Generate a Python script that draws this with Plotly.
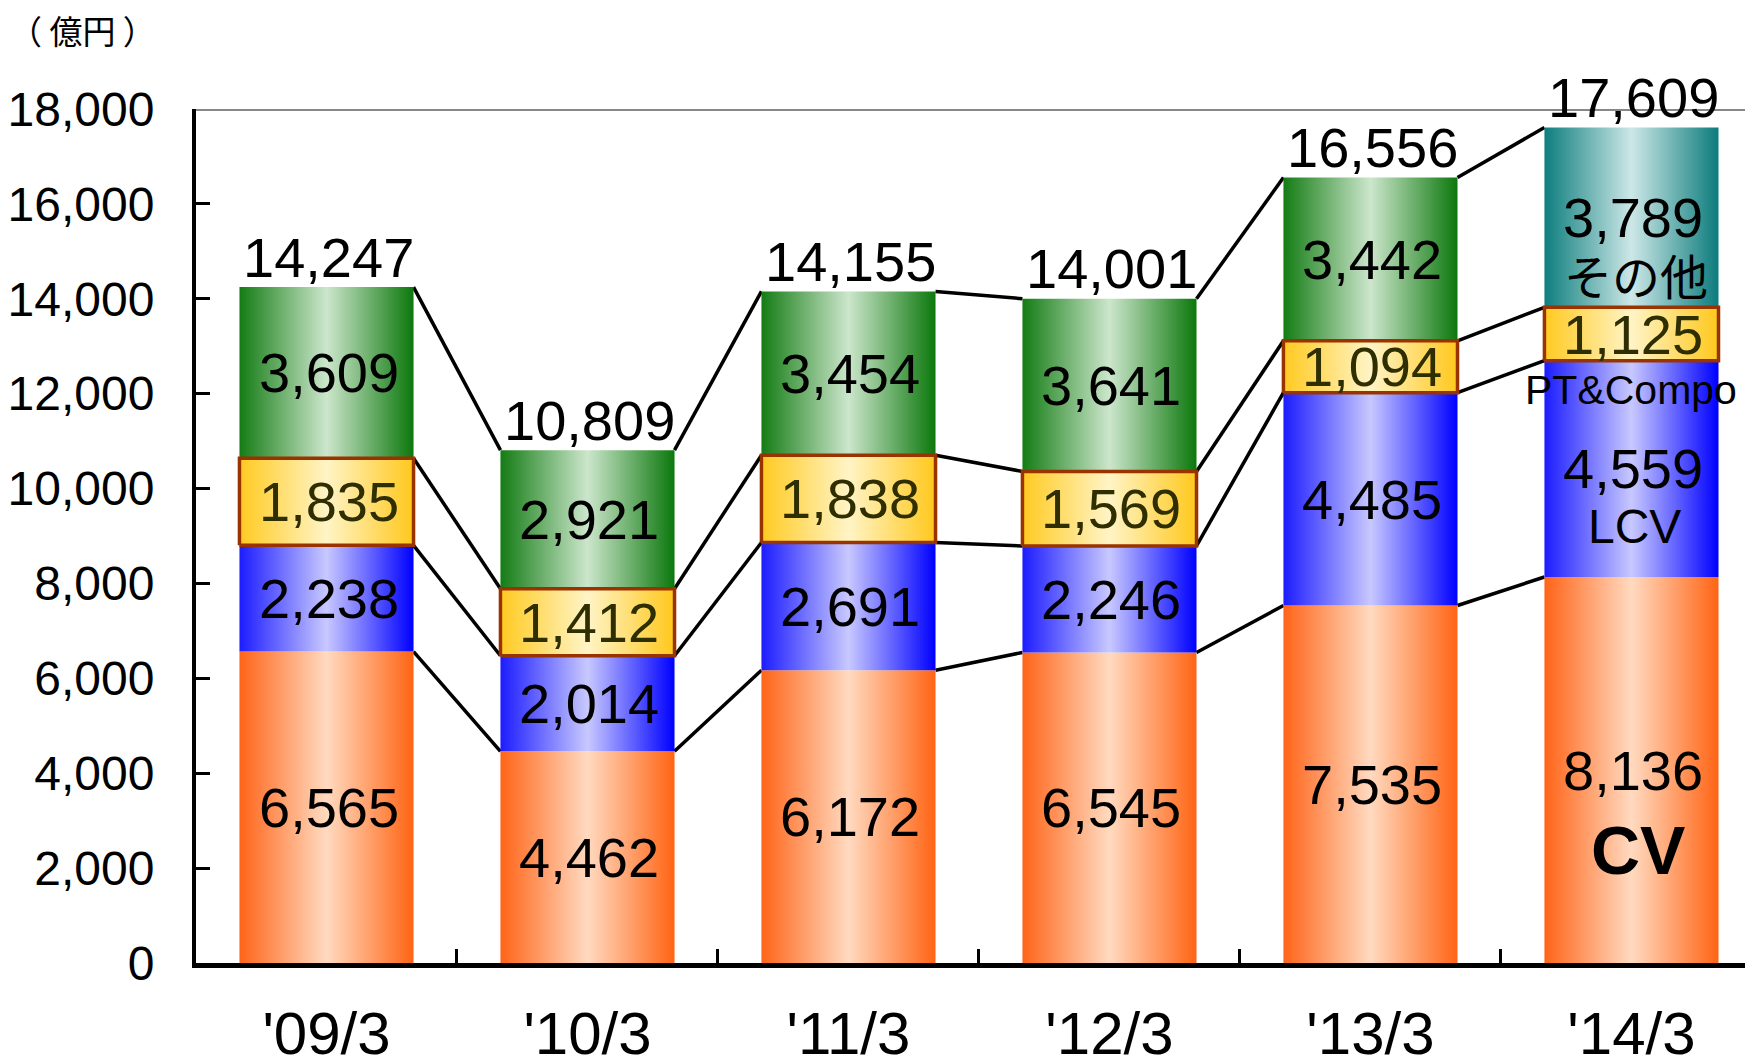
import plotly.graph_objects as go

# ---------------- data ----------------
categories = ["'09/3", "'10/3", "'11/3", "'12/3", "'13/3", "'14/3"]
cv = [6565, 4462, 6172, 6545, 7535, 8136]
lcv = [2238, 2014, 2691, 2246, 4485, 4559]
pt_compo = [1835, 1412, 1838, 1569, 1094, 1125]
other = [3609, 2921, 3454, 3641, 3442, 3789]
totals = [14247, 10809, 14155, 14001, 16556, 17609]
series_names = ["CV", "LCV", "PT&Compo", "その他"]
y_tick_values = [0, 2000, 4000, 6000, 8000, 10000, 12000, 14000, 16000, 18000]
unit_label = "（ 億円 ）"

# ---------------- styles ----------------
NUM_FONT = "Liberation Sans, Arial, sans-serif"
JP_FONT = "Noto Sans CJK JP, sans-serif"
BAR_W = 0.667

grad = {
    "CV": [[0, "#FF6418"], [0.5, "#FFDAC0"], [1, "#FF6414"]],
    "LCV": [[0, "#1C1CFF"], [0.5, "#C8C8FF"], [1, "#0000FF"]],
    "PT&Compo": [[0, "#FFCA20"], [0.5, "#FFF4C6"], [1, "#FFC81C"]],
    "その他": [[0, "#147C14"], [0.5, "#CCE6CC"], [1, "#0C780C"]],
}
teal_grad = [[0, "#0E7E7E"], [0.5, "#CDE7E7"], [1, "#0C7C7C"]]
label_color = {"CV": "black", "LCV": "black", "PT&Compo": "#2E2E00", "その他": "black"}

series_vals = [cv, lcv, pt_compo, other]
n = len(categories)

fig = go.Figure()

# cumulative levels
levels = []
for i in range(n):
    acc = [0]
    for vals in series_vals:
        acc.append(acc[-1] + vals[i])
    levels.append(acc)

# connecting lines between bars
for k in range(1, 5):
    for i in range(n - 1):
        fig.add_trace(go.Scatter(
            x=[i + BAR_W / 2, i + 1 - BAR_W / 2],
            y=[levels[i][k], levels[i + 1][k]],
            mode="lines", line=dict(color="black", width=3.5),
            hoverinfo="skip", showlegend=False))

# bar segments (PT last so its border sits on top)
draw_order = [0, 1, 3, 2]
for s in draw_order:
    name = series_names[s]
    for i in range(n):
        base = levels[i][s]
        top = levels[i][s + 1]
        x0, x1 = i - BAR_W / 2, i + BAR_W / 2
        cs = grad[name]
        if name == "その他" and i == n - 1:
            cs = teal_grad
        line = dict(width=0, color="rgba(0,0,0,0)")
        if name == "PT&Compo":
            line = dict(width=3.5, color="#993300")
        fig.add_trace(go.Scatter(
            x=[x0, x1, x1, x0, x0], y=[base, base, top, top, base],
            mode="lines", fill="toself",
            fillgradient=dict(type="horizontal", colorscale=cs),
            line=line, hoverinfo="skip", showlegend=False))

annotations = []
# segment value labels
for s, name in enumerate(series_names):
    for i in range(n):
        v = series_vals[s][i]
        yc = (levels[i][s] + levels[i][s + 1]) / 2
        annotations.append(dict(
            x=i, y=yc, xref="x", yref="y", text=f"{v:,}", showarrow=False,
            font=dict(family=NUM_FONT, size=56, color=label_color[name]),
            xanchor="center", yanchor="middle", xshift=2))

# total labels
for i in range(n):
    annotations.append(dict(
        x=i, y=totals[i], xref="x", yref="y", text=f"{totals[i]:,}",
        showarrow=False, font=dict(family=NUM_FONT, size=56, color="black"),
        xanchor="center", yanchor="middle", yshift=30, xshift=2))

# series name labels in last bar
last = n - 1
name_style = {
    "CV": dict(size=68, shift=-80, dx=7, family=NUM_FONT, bold=True),
    "LCV": dict(size=48, shift=-58, dx=3, family=NUM_FONT, bold=False),
    "PT&Compo": dict(size=41, shift=-56, dx=0, family=NUM_FONT, bold=False),
    "その他": dict(size=48, shift=-57, dx=5, family=JP_FONT, bold=False),
}
for s, name in enumerate(series_names):
    st = name_style[name]
    yc = (levels[last][s] + levels[last][s + 1]) / 2
    txt = f"<b>{name}</b>" if st["bold"] else name
    annotations.append(dict(
        x=last, y=yc, xref="x", yref="y", text=txt, showarrow=False,
        font=dict(family=st["family"], size=st["size"], color="black"),
        xanchor="center", yanchor="middle", yshift=st["shift"], xshift=st["dx"]))

# unit label
annotations.append(dict(
    x=-0.122, y=1.0925, xref="paper", yref="paper", text=unit_label,
    showarrow=False, font=dict(family=JP_FONT, size=33, color="black"),
    xanchor="left", yanchor="middle"))

fig.update_layout(
    width=1745, height=1055, autosize=False,
    margin=dict(l=196, r=0, t=109, b=92),
    paper_bgcolor="white", plot_bgcolor="white",
    showlegend=False,
    annotations=annotations,
    shapes=[dict(type="line", xref="paper", yref="y", x0=0, x1=1,
                 y0=y_tick_values[-1], y1=y_tick_values[-1],
                 line=dict(color="#888888", width=4), layer="below")],
    xaxis=dict(
        range=[-0.5, 5.435], tickmode="array",
        tickvals=list(range(n)), ticktext=categories,
        ticks="", showgrid=False, zeroline=False, automargin=False,
        showline=True, linecolor="black", linewidth=5,
        tickfont=dict(family=NUM_FONT, size=60, color="black"),
        ticklabelstandoff=14,
        minor=dict(tickmode="array", tickvals=[i + 0.5 for i in range(n - 1)],
                   ticks="inside", ticklen=14, tickwidth=3, tickcolor="black",
                   showgrid=False),
        fixedrange=True),
    yaxis=dict(
        range=[0, y_tick_values[-1]], tickmode="array",
        tickvals=y_tick_values, tickformat=",", automargin=False,
        ticks="inside", ticklen=14, tickwidth=3, tickcolor="black",
        showgrid=False, zeroline=False,
        showline=True, linecolor="black", linewidth=4,
        tickfont=dict(family=NUM_FONT, size=48, color="black"),
        ticklabelstandoff=28, fixedrange=True),
)

fig.write_html(
    "out.html",
    config={"displayModeBar": False, "staticPlot": True},
    post_script="document.body.style.margin='0';document.body.style.overflow='hidden';",
)
